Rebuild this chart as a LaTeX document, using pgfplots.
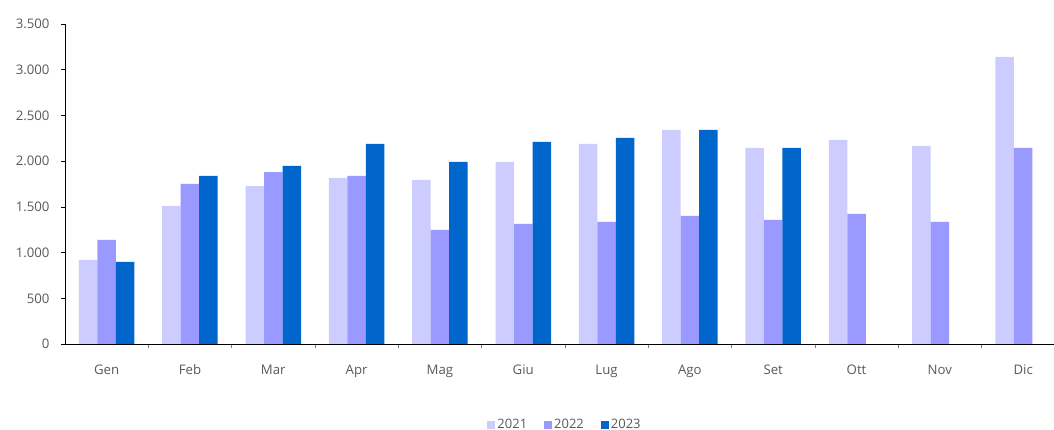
\documentclass[border=0pt]{standalone}
\usepackage{pgfplots}
\pgfplotsset{compat=1.18}
\usepackage{fontspec}
\setmainfont{Open Sans}
\definecolor{c21}{HTML}{CCCCFF}
\definecolor{c22}{HTML}{9999FF}
\definecolor{c23}{HTML}{0066CC}
\definecolor{txt}{HTML}{595959}
\begin{document}
\begin{tikzpicture}
\begin{axis}[
  at={(0pt,0pt)}, anchor=south west,
  scale only axis, width=989pt, height=320pt,
  ybar=0pt, bar width=18.5pt,
  xmin=-0.5, xmax=11.37,
  ymin=0, ymax=3500,
  ytick={0,500,...,3500},
  xtick={0,...,11},
  xticklabels={Gen,Feb,Mar,Apr,Mag,Giu,Lug,Ago,Set,Ott,Nov,Dic},
  minor xtick={0.5,1.5,...,10.5},
  axis lines*=left,
  axis line style={black, line width=0.8pt},
  tick align=outside,
  major tick length=4pt, minor tick length=4pt,
  x tick style={draw=none},
  minor x tick style={draw=gray, line width=0.6pt},
  y tick style={black, line width=0.6pt},
  ticklabel style={font=\fontsize{13.2}{15}\selectfont, text=txt},
  yticklabel style={xshift=-8pt},
  xticklabel style={yshift=-13pt, text height=9.5pt, text depth=3pt},
  /pgf/number format/assume math mode=true,
  /pgf/number format/.cd, 1000 sep={.}, /pgfplots/.cd,
  scaled y ticks=false,
  clip=false,
  legend style={at={(0.5056,-0.253)}, anchor=center, draw=none, legend columns=3,
    font=\fontsize{13}{15}\selectfont, text=txt,
    /tikz/every even column/.append style={column sep=15pt},
    nodes={inner sep=2pt}},
  legend image code/.code={\fill[#1] (0pt,-4pt) rectangle (8pt,4pt);},
]
\addplot[fill=c21, draw=none] coordinates {(0,919) (1,1510) (2,1728) (3,1816) (4,1794) (5,1991) (6,2188) (7,2341) (8,2144) (9,2232) (10,2166) (11,3140)};
\addplot[fill=c22, draw=none] coordinates {(0,1138) (1,1750) (2,1881) (3,1838) (4,1247) (5,1313) (6,1335) (7,1400) (8,1357) (9,1422) (10,1335) (11,2144)};
\addplot[fill=c23, draw=none] coordinates {(0,897) (1,1838) (2,1947) (3,2188) (4,1991) (5,2210) (6,2254) (7,2341) (8,2144)};
\legend{2021,2022,2023}
\end{axis}
\pgfresetboundingbox
\path (-65pt,-86pt) rectangle (989pt,344pt);
\end{tikzpicture}
\end{document}
